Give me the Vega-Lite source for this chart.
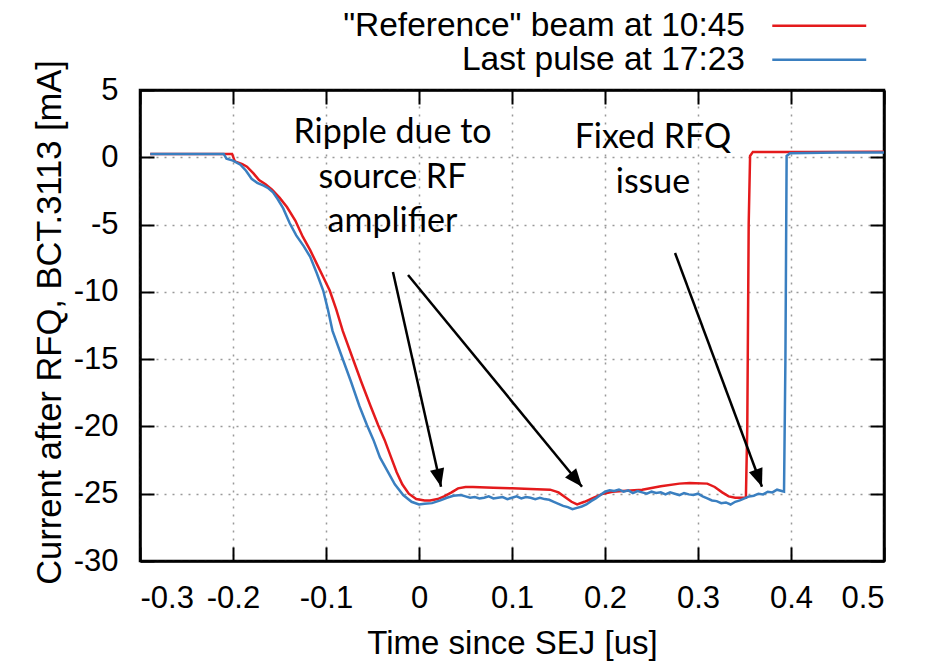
{
  "$schema": "https://vega.github.io/schema/vega-lite/v6.json",
  "width": 744,
  "height": 471,
  "autosize": "none",
  "padding": {"left": 140, "top": 90, "right": 56, "bottom": 102},
  "background": "white",
  "datasets": {
    "traces": [
      {"time": -0.289, "current": 0.25, "trace": "\"Reference\" beam at 10:45"},
      {"time": -0.25, "current": 0.25, "trace": "\"Reference\" beam at 10:45"},
      {"time": -0.201, "current": 0.25, "trace": "\"Reference\" beam at 10:45"},
      {"time": -0.198, "current": -0.3, "trace": "\"Reference\" beam at 10:45"},
      {"time": -0.19, "current": -0.5, "trace": "\"Reference\" beam at 10:45"},
      {"time": -0.185, "current": -0.7, "trace": "\"Reference\" beam at 10:45"},
      {"time": -0.178, "current": -1.2, "trace": "\"Reference\" beam at 10:45"},
      {"time": -0.172, "current": -1.7, "trace": "\"Reference\" beam at 10:45"},
      {"time": -0.165, "current": -2.0, "trace": "\"Reference\" beam at 10:45"},
      {"time": -0.158, "current": -2.4, "trace": "\"Reference\" beam at 10:45"},
      {"time": -0.15, "current": -3.0, "trace": "\"Reference\" beam at 10:45"},
      {"time": -0.142, "current": -3.7, "trace": "\"Reference\" beam at 10:45"},
      {"time": -0.133, "current": -4.7, "trace": "\"Reference\" beam at 10:45"},
      {"time": -0.125, "current": -5.9, "trace": "\"Reference\" beam at 10:45"},
      {"time": -0.117, "current": -6.9, "trace": "\"Reference\" beam at 10:45"},
      {"time": -0.11, "current": -7.9, "trace": "\"Reference\" beam at 10:45"},
      {"time": -0.103, "current": -8.9, "trace": "\"Reference\" beam at 10:45"},
      {"time": -0.096, "current": -9.9, "trace": "\"Reference\" beam at 10:45"},
      {"time": -0.089, "current": -11.3, "trace": "\"Reference\" beam at 10:45"},
      {"time": -0.082, "current": -12.9, "trace": "\"Reference\" beam at 10:45"},
      {"time": -0.072, "current": -14.8, "trace": "\"Reference\" beam at 10:45"},
      {"time": -0.062, "current": -16.7, "trace": "\"Reference\" beam at 10:45"},
      {"time": -0.052, "current": -18.5, "trace": "\"Reference\" beam at 10:45"},
      {"time": -0.044, "current": -19.9, "trace": "\"Reference\" beam at 10:45"},
      {"time": -0.037, "current": -21.0, "trace": "\"Reference\" beam at 10:45"},
      {"time": -0.03, "current": -22.3, "trace": "\"Reference\" beam at 10:45"},
      {"time": -0.024, "current": -23.4, "trace": "\"Reference\" beam at 10:45"},
      {"time": -0.018, "current": -24.3, "trace": "\"Reference\" beam at 10:45"},
      {"time": -0.011, "current": -25.0, "trace": "\"Reference\" beam at 10:45"},
      {"time": -0.003, "current": -25.4, "trace": "\"Reference\" beam at 10:45"},
      {"time": 0.006, "current": -25.5, "trace": "\"Reference\" beam at 10:45"},
      {"time": 0.012, "current": -25.5, "trace": "\"Reference\" beam at 10:45"},
      {"time": 0.02, "current": -25.4, "trace": "\"Reference\" beam at 10:45"},
      {"time": 0.027, "current": -25.2, "trace": "\"Reference\" beam at 10:45"},
      {"time": 0.035, "current": -24.9, "trace": "\"Reference\" beam at 10:45"},
      {"time": 0.042, "current": -24.6, "trace": "\"Reference\" beam at 10:45"},
      {"time": 0.05, "current": -24.5, "trace": "\"Reference\" beam at 10:45"},
      {"time": 0.058, "current": -24.5, "trace": "\"Reference\" beam at 10:45"},
      {"time": 0.08, "current": -24.55, "trace": "\"Reference\" beam at 10:45"},
      {"time": 0.1, "current": -24.6, "trace": "\"Reference\" beam at 10:45"},
      {"time": 0.12, "current": -24.65, "trace": "\"Reference\" beam at 10:45"},
      {"time": 0.141, "current": -24.7, "trace": "\"Reference\" beam at 10:45"},
      {"time": 0.15, "current": -24.9, "trace": "\"Reference\" beam at 10:45"},
      {"time": 0.158, "current": -25.3, "trace": "\"Reference\" beam at 10:45"},
      {"time": 0.164, "current": -25.6, "trace": "\"Reference\" beam at 10:45"},
      {"time": 0.17, "current": -25.8, "trace": "\"Reference\" beam at 10:45"},
      {"time": 0.178, "current": -25.6, "trace": "\"Reference\" beam at 10:45"},
      {"time": 0.188, "current": -25.3, "trace": "\"Reference\" beam at 10:45"},
      {"time": 0.198, "current": -25.0, "trace": "\"Reference\" beam at 10:45"},
      {"time": 0.208, "current": -24.85, "trace": "\"Reference\" beam at 10:45"},
      {"time": 0.219, "current": -24.8, "trace": "\"Reference\" beam at 10:45"},
      {"time": 0.24, "current": -24.7, "trace": "\"Reference\" beam at 10:45"},
      {"time": 0.26, "current": -24.45, "trace": "\"Reference\" beam at 10:45"},
      {"time": 0.28, "current": -24.25, "trace": "\"Reference\" beam at 10:45"},
      {"time": 0.291, "current": -24.2, "trace": "\"Reference\" beam at 10:45"},
      {"time": 0.31, "current": -24.25, "trace": "\"Reference\" beam at 10:45"},
      {"time": 0.318, "current": -24.5, "trace": "\"Reference\" beam at 10:45"},
      {"time": 0.326, "current": -24.9, "trace": "\"Reference\" beam at 10:45"},
      {"time": 0.333, "current": -25.2, "trace": "\"Reference\" beam at 10:45"},
      {"time": 0.34, "current": -25.3, "trace": "\"Reference\" beam at 10:45"},
      {"time": 0.3515, "current": -25.3, "trace": "\"Reference\" beam at 10:45"},
      {"time": 0.353, "current": -20.0, "trace": "\"Reference\" beam at 10:45"},
      {"time": 0.3545, "current": -5.0, "trace": "\"Reference\" beam at 10:45"},
      {"time": 0.356, "current": 0.1, "trace": "\"Reference\" beam at 10:45"},
      {"time": 0.359, "current": 0.4, "trace": "\"Reference\" beam at 10:45"},
      {"time": 0.42, "current": 0.4, "trace": "\"Reference\" beam at 10:45"},
      {"time": 0.5, "current": 0.42, "trace": "\"Reference\" beam at 10:45"},

      {"time": -0.289, "current": 0.25, "trace": "Last pulse at 17:23"},
      {"time": -0.25, "current": 0.25, "trace": "Last pulse at 17:23"},
      {"time": -0.21, "current": 0.25, "trace": "Last pulse at 17:23"},
      {"time": -0.207, "current": -0.1, "trace": "Last pulse at 17:23"},
      {"time": -0.2, "current": -0.25, "trace": "Last pulse at 17:23"},
      {"time": -0.192, "current": -0.55, "trace": "Last pulse at 17:23"},
      {"time": -0.186, "current": -1.0, "trace": "Last pulse at 17:23"},
      {"time": -0.18, "current": -1.6, "trace": "Last pulse at 17:23"},
      {"time": -0.174, "current": -1.9, "trace": "Last pulse at 17:23"},
      {"time": -0.167, "current": -2.1, "trace": "Last pulse at 17:23"},
      {"time": -0.162, "current": -2.3, "trace": "Last pulse at 17:23"},
      {"time": -0.157, "current": -2.6, "trace": "Last pulse at 17:23"},
      {"time": -0.152, "current": -3.1, "trace": "Last pulse at 17:23"},
      {"time": -0.146, "current": -3.8, "trace": "Last pulse at 17:23"},
      {"time": -0.139, "current": -4.9, "trace": "Last pulse at 17:23"},
      {"time": -0.132, "current": -5.8, "trace": "Last pulse at 17:23"},
      {"time": -0.124, "current": -6.6, "trace": "Last pulse at 17:23"},
      {"time": -0.117, "current": -7.4, "trace": "Last pulse at 17:23"},
      {"time": -0.11, "current": -8.6, "trace": "Last pulse at 17:23"},
      {"time": -0.103, "current": -9.9, "trace": "Last pulse at 17:23"},
      {"time": -0.098, "current": -11.3, "trace": "Last pulse at 17:23"},
      {"time": -0.093, "current": -12.9, "trace": "Last pulse at 17:23"},
      {"time": -0.083, "current": -14.8, "trace": "Last pulse at 17:23"},
      {"time": -0.073, "current": -16.7, "trace": "Last pulse at 17:23"},
      {"time": -0.064, "current": -18.5, "trace": "Last pulse at 17:23"},
      {"time": -0.056, "current": -19.9, "trace": "Last pulse at 17:23"},
      {"time": -0.049, "current": -21.0, "trace": "Last pulse at 17:23"},
      {"time": -0.042, "current": -22.3, "trace": "Last pulse at 17:23"},
      {"time": -0.034, "current": -23.3, "trace": "Last pulse at 17:23"},
      {"time": -0.026, "current": -24.3, "trace": "Last pulse at 17:23"},
      {"time": -0.017, "current": -25.1, "trace": "Last pulse at 17:23"},
      {"time": -0.008, "current": -25.6, "trace": "Last pulse at 17:23"},
      {"time": 0.0, "current": -25.8, "trace": "Last pulse at 17:23"},
      {"time": 0.006, "current": -25.75, "trace": "Last pulse at 17:23"},
      {"time": 0.014, "current": -25.7, "trace": "Last pulse at 17:23"},
      {"time": 0.023, "current": -25.5, "trace": "Last pulse at 17:23"},
      {"time": 0.03, "current": -25.3, "trace": "Last pulse at 17:23"},
      {"time": 0.037, "current": -25.15, "trace": "Last pulse at 17:23"},
      {"time": 0.045, "current": -25.1, "trace": "Last pulse at 17:23"},
      {"time": 0.05, "current": -25.2, "trace": "Last pulse at 17:23"},
      {"time": 0.055, "current": -25.3, "trace": "Last pulse at 17:23"},
      {"time": 0.06, "current": -25.25, "trace": "Last pulse at 17:23"},
      {"time": 0.065, "current": -25.35, "trace": "Last pulse at 17:23"},
      {"time": 0.07, "current": -25.3, "trace": "Last pulse at 17:23"},
      {"time": 0.075, "current": -25.2, "trace": "Last pulse at 17:23"},
      {"time": 0.08, "current": -25.35, "trace": "Last pulse at 17:23"},
      {"time": 0.085, "current": -25.3, "trace": "Last pulse at 17:23"},
      {"time": 0.09, "current": -25.25, "trace": "Last pulse at 17:23"},
      {"time": 0.095, "current": -25.4, "trace": "Last pulse at 17:23"},
      {"time": 0.1, "current": -25.3, "trace": "Last pulse at 17:23"},
      {"time": 0.105, "current": -25.2, "trace": "Last pulse at 17:23"},
      {"time": 0.11, "current": -25.35, "trace": "Last pulse at 17:23"},
      {"time": 0.115, "current": -25.25, "trace": "Last pulse at 17:23"},
      {"time": 0.12, "current": -25.3, "trace": "Last pulse at 17:23"},
      {"time": 0.125, "current": -25.4, "trace": "Last pulse at 17:23"},
      {"time": 0.13, "current": -25.3, "trace": "Last pulse at 17:23"},
      {"time": 0.135, "current": -25.4, "trace": "Last pulse at 17:23"},
      {"time": 0.14, "current": -25.45, "trace": "Last pulse at 17:23"},
      {"time": 0.145, "current": -25.6, "trace": "Last pulse at 17:23"},
      {"time": 0.15, "current": -25.75, "trace": "Last pulse at 17:23"},
      {"time": 0.155, "current": -25.9, "trace": "Last pulse at 17:23"},
      {"time": 0.16, "current": -26.0, "trace": "Last pulse at 17:23"},
      {"time": 0.165, "current": -26.15, "trace": "Last pulse at 17:23"},
      {"time": 0.17, "current": -26.05, "trace": "Last pulse at 17:23"},
      {"time": 0.175, "current": -25.95, "trace": "Last pulse at 17:23"},
      {"time": 0.18, "current": -25.8, "trace": "Last pulse at 17:23"},
      {"time": 0.185, "current": -25.55, "trace": "Last pulse at 17:23"},
      {"time": 0.19, "current": -25.35, "trace": "Last pulse at 17:23"},
      {"time": 0.195, "current": -25.1, "trace": "Last pulse at 17:23"},
      {"time": 0.2, "current": -24.85, "trace": "Last pulse at 17:23"},
      {"time": 0.205, "current": -24.75, "trace": "Last pulse at 17:23"},
      {"time": 0.21, "current": -24.8, "trace": "Last pulse at 17:23"},
      {"time": 0.215, "current": -24.7, "trace": "Last pulse at 17:23"},
      {"time": 0.22, "current": -24.85, "trace": "Last pulse at 17:23"},
      {"time": 0.225, "current": -24.75, "trace": "Last pulse at 17:23"},
      {"time": 0.23, "current": -24.95, "trace": "Last pulse at 17:23"},
      {"time": 0.235, "current": -24.8, "trace": "Last pulse at 17:23"},
      {"time": 0.24, "current": -24.9, "trace": "Last pulse at 17:23"},
      {"time": 0.245, "current": -25.0, "trace": "Last pulse at 17:23"},
      {"time": 0.25, "current": -24.85, "trace": "Last pulse at 17:23"},
      {"time": 0.255, "current": -24.95, "trace": "Last pulse at 17:23"},
      {"time": 0.26, "current": -24.9, "trace": "Last pulse at 17:23"},
      {"time": 0.265, "current": -25.05, "trace": "Last pulse at 17:23"},
      {"time": 0.27, "current": -24.9, "trace": "Last pulse at 17:23"},
      {"time": 0.275, "current": -25.0, "trace": "Last pulse at 17:23"},
      {"time": 0.28, "current": -25.1, "trace": "Last pulse at 17:23"},
      {"time": 0.285, "current": -24.95, "trace": "Last pulse at 17:23"},
      {"time": 0.29, "current": -25.05, "trace": "Last pulse at 17:23"},
      {"time": 0.295, "current": -25.1, "trace": "Last pulse at 17:23"},
      {"time": 0.3, "current": -25.0, "trace": "Last pulse at 17:23"},
      {"time": 0.305, "current": -25.2, "trace": "Last pulse at 17:23"},
      {"time": 0.31, "current": -25.35, "trace": "Last pulse at 17:23"},
      {"time": 0.315, "current": -25.5, "trace": "Last pulse at 17:23"},
      {"time": 0.32, "current": -25.55, "trace": "Last pulse at 17:23"},
      {"time": 0.325, "current": -25.7, "trace": "Last pulse at 17:23"},
      {"time": 0.33, "current": -25.65, "trace": "Last pulse at 17:23"},
      {"time": 0.335, "current": -25.8, "trace": "Last pulse at 17:23"},
      {"time": 0.34, "current": -25.6, "trace": "Last pulse at 17:23"},
      {"time": 0.345, "current": -25.5, "trace": "Last pulse at 17:23"},
      {"time": 0.35, "current": -25.35, "trace": "Last pulse at 17:23"},
      {"time": 0.355, "current": -25.2, "trace": "Last pulse at 17:23"},
      {"time": 0.36, "current": -25.15, "trace": "Last pulse at 17:23"},
      {"time": 0.365, "current": -25.0, "trace": "Last pulse at 17:23"},
      {"time": 0.37, "current": -25.05, "trace": "Last pulse at 17:23"},
      {"time": 0.375, "current": -24.85, "trace": "Last pulse at 17:23"},
      {"time": 0.38, "current": -24.9, "trace": "Last pulse at 17:23"},
      {"time": 0.385, "current": -24.7, "trace": "Last pulse at 17:23"},
      {"time": 0.39, "current": -24.8, "trace": "Last pulse at 17:23"},
      {"time": 0.3925, "current": -24.85, "trace": "Last pulse at 17:23"},
      {"time": 0.394, "current": -15.0, "trace": "Last pulse at 17:23"},
      {"time": 0.3953, "current": 0.1, "trace": "Last pulse at 17:23"},
      {"time": 0.399, "current": 0.3, "trace": "Last pulse at 17:23"},
      {"time": 0.45, "current": 0.35, "trace": "Last pulse at 17:23"},
      {"time": 0.5, "current": 0.35, "trace": "Last pulse at 17:23"}
    ],
    "arrows": [
      {"arrow": 1, "time": -0.028, "current": -8.52, "time2": 0.0237, "current2": -24.48},
      {"arrow": 2, "time": -0.0118, "current": -8.75, "time2": 0.1753, "current2": -24.48},
      {"arrow": 3, "time": 0.2753, "current": -7.11, "time2": 0.3688, "current2": -24.48}
    ],
    "notes": [
      {"time": -0.0285, "current": 1.06, "note": "Ripple due to\nsource RF\namplifier"},
      {"time": 0.2516, "current": 0.69, "note": "Fixed RFQ\nissue"}
    ]
  },
  "resolve": {"axis": {"x": "independent", "y": "independent"}},
  "layer": [
    {
      "data": {"name": "traces"},
      "mark": {"type": "line", "strokeWidth": 2.5, "clip": true},
      "encoding": {
        "x": {
          "field": "time", "type": "quantitative",
          "scale": {"domain": [-0.3, 0.5], "nice": false, "zero": false},
          "axis": {
            "orient": "bottom",
            "title": "Time since SEJ [us]",
            "values": [-0.3, -0.2, -0.1, 0, 0.1, 0.2, 0.3, 0.4, 0.5],
            "labelExpr": "replace(format(datum.value, '~g'), '\u2212', '-')",
            "ticks": true,
            "tickSize": -14,
            "tickColor": "black",
            "tickWidth": 2,
            "labelPadding": 36,
            "titleY": 92,
            "titleBaseline": "alphabetic"
          }
        },
        "y": {
          "field": "current", "type": "quantitative",
          "scale": {"domain": [-30, 5], "nice": false, "zero": false},
          "axis": {
            "orient": "left",
            "title": "Current after RFQ, BCT.3113 [mA]",
            "values": [-30, -25, -20, -15, -10, -5, 0, 5],
            "labelExpr": "replace(format(datum.value, '~g'), '\u2212', '-')",
            "ticks": true,
            "tickSize": -14,
            "tickColor": "black",
            "tickWidth": 2,
            "labelPadding": 36,
            "titleFontSize": 34.5,
            "titleX": -80,
            "titleY": 232,
            "titleBaseline": "alphabetic"
          }
        },
        "color": {
          "field": "trace", "type": "nominal",
          "scale": {
            "domain": ["\"Reference\" beam at 10:45", "Last pulse at 17:23"],
            "range": ["#e41a1c", "#3a7fc0"]
          },
          "legend": {
            "orient": "none",
            "legendX": 662.5,
            "legendY": -81,
            "title": null,
            "padding": 0,
            "symbolType": "M-5,0H5",
            "symbolSize": 353,
            "symbolStrokeWidth": 2.5,
            "labelFont": "Liberation Sans",
            "labelFontSize": 33.5,
            "labelColor": "black",
            "labelAlign": "right",
            "labelOffset": -91,
            "labelLimit": 1000,
            "rowPadding": -10
          }
        }
      }
    },
    {
      "data": {"name": "arrows"},
      "mark": {"type": "rule", "color": "black", "strokeWidth": 2.5},
      "encoding": {
        "x": {
          "field": "time", "type": "quantitative",
          "axis": {
            "orient": "top", "labels": false, "title": null, "grid": false,
            "ticks": true, "tickColor": "black", "tickWidth": 2,
            "tickSize": -14,
            "values": [-0.3, -0.2, -0.1, 0, 0.1, 0.2, 0.3, 0.4, 0.5]
          }
        },
        "y": {
          "field": "current", "type": "quantitative",
          "axis": {
            "orient": "right", "labels": false, "title": null, "grid": false,
            "ticks": true, "tickColor": "black", "tickWidth": 2,
            "tickSize": -14,
            "values": [-30, -25, -20, -15, -10, -5, 0, 5]
          }
        },
        "x2": {"field": "time2"},
        "y2": {"field": "current2"}
      }
    },
    {
      "data": {"name": "arrows"},
      "transform": [{"filter": "datum.arrow == 1"}],
      "mark": {"type": "point", "shape": "M0,0L-0.4,-1L0.4,-1Z", "size": 1296, "angle": 347.2, "filled": true, "color": "black", "opacity": 1},
      "encoding": {
        "x": {"field": "time2", "type": "quantitative", "axis": null},
        "y": {"field": "current2", "type": "quantitative", "axis": null}
      }
    },
    {
      "data": {"name": "arrows"},
      "transform": [{"filter": "datum.arrow == 2"}],
      "mark": {"type": "point", "shape": "M0,0L-0.4,-1L0.4,-1Z", "size": 1296, "angle": 320.6, "filled": true, "color": "black", "opacity": 1},
      "encoding": {
        "x": {"field": "time2", "type": "quantitative", "axis": null},
        "y": {"field": "current2", "type": "quantitative", "axis": null}
      }
    },
    {
      "data": {"name": "arrows"},
      "transform": [{"filter": "datum.arrow == 3"}],
      "mark": {"type": "point", "shape": "M0,0L-0.4,-1L0.4,-1Z", "size": 1296, "angle": 339.6, "filled": true, "color": "black", "opacity": 1},
      "encoding": {
        "x": {"field": "time2", "type": "quantitative", "axis": null},
        "y": {"field": "current2", "type": "quantitative", "axis": null}
      }
    },
    {
      "data": {"name": "notes"},
      "mark": {"type": "text", "font": "Lato", "fontSize": 34, "align": "center", "baseline": "alphabetic", "lineBreak": "\n", "lineHeight": 44.5, "color": "black"},
      "encoding": {
        "x": {"field": "time", "type": "quantitative", "axis": null},
        "y": {"field": "current", "type": "quantitative", "axis": null},
        "text": {"field": "note", "type": "nominal"}
      }
    }
  ],
  "config": {
    "view": {"stroke": "black", "strokeWidth": 2.5},
    "axis": {
      "domain": true,
      "domainColor": "black",
      "domainWidth": 2.5,
      "labelFont": "Liberation Sans",
      "labelFontSize": 31,
      "labelColor": "black",
      "titleFont": "Liberation Sans",
      "titleFontSize": 33,
      "titleFontWeight": "normal",
      "titleColor": "black",
      "gridColor": "#999999",
      "gridDash": [2, 6],
      "gridWidth": 1.5
    }
  }
}
